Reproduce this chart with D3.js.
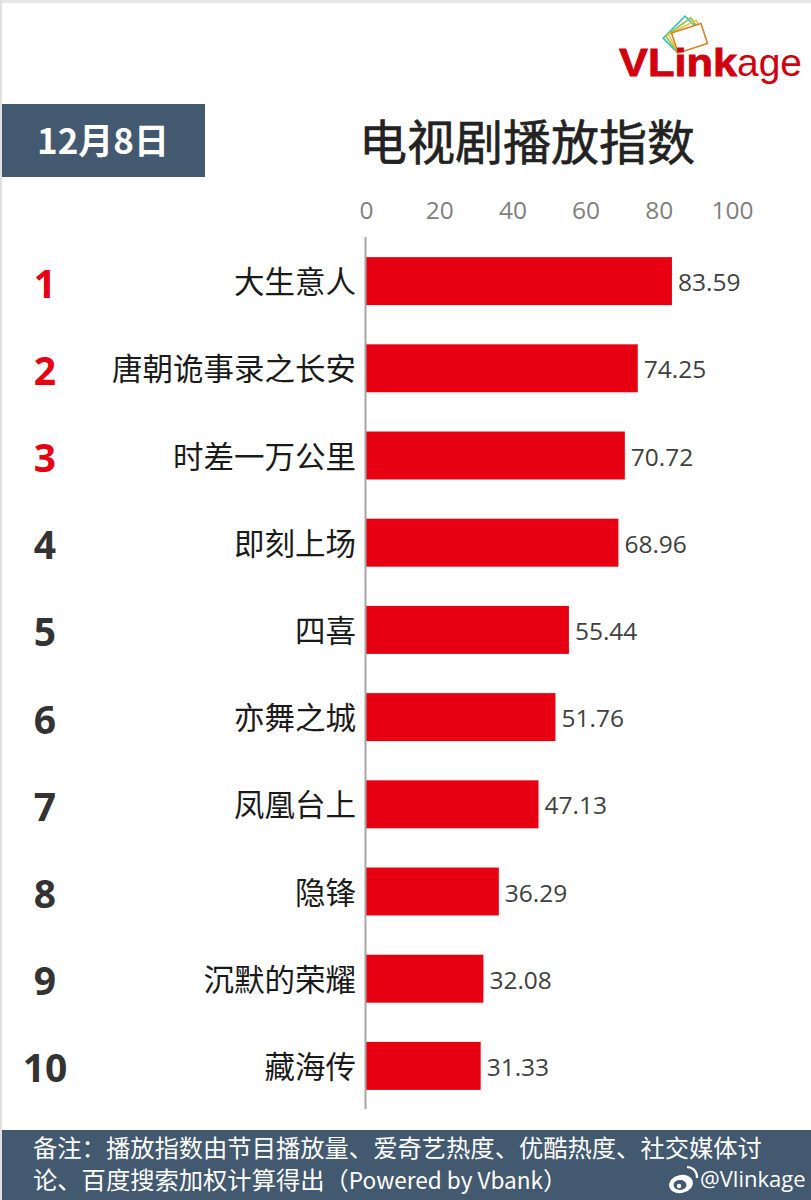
<!DOCTYPE html>
<html><head><meta charset="utf-8">
<script src="https://cdn.jsdelivr.net/npm/d3@7"></script>
<style>html,body{margin:0;padding:0;background:#fff}svg{display:block}
text{font-family:"Noto Sans CJK SC","Noto Sans",sans-serif}</style></head>
<body><svg id="c" width="811" height="1200"></svg>
<script>
const ranks = ["1","2","3","4","5","6","7","8","9","10"];
const titles = ["大生意人","唐朝诡事录之长安","时差一万公里","即刻上场","四喜","亦舞之城","凤凰台上","隐锋","沉默的荣耀","藏海传"];
const values = [83.59,74.25,70.72,68.96,55.44,51.76,47.13,36.29,32.08,31.33];
const tickValues = [0,20,40,60,80,100];
const dateLabel = "12月8日";
const chartTitle = "电视剧播放指数";
const noteLine1 = "备注\uFF1A播放指数由节目播放量、爱奇艺热度、优酷热度、社交媒体讨";
const noteLine2 = ["论、百度搜索加权计算得出\uFF08","Powered by Vbank","\uFF09"];
const cardColors = ["#3fb8c8","#8cc63f","#e8c23a","#d9822b"];
const cardAngles = [-45,-36,-27,-18];

const svg = d3.select("#c");
const slate = "#43596f", red = "#e60012";

svg.append("rect").attr("width",811).attr("height",3).attr("fill","#e6e6e6");
svg.append("rect").attr("width",2).attr("height",1200).attr("fill","#e0e0e0");

const x = d3.scaleLinear().domain([0,100]).range([366,732]);
const y = d3.scaleBand().domain(titles).range([237.5,1109.5]).paddingInner(0.45).paddingOuter(0.225);

// header
svg.append("rect").attr("x",2).attr("y",104).attr("width",203).attr("height",73).attr("fill",slate);
svg.append("text").attr("x",103).attr("y",154).attr("text-anchor","middle")
  .attr("font-size",35).attr("font-weight",700).attr("fill","#fff").text(dateLabel);
svg.append("text").attr("x",527).attr("y",160).attr("text-anchor","middle")
  .attr("font-size",48).attr("font-weight",400).attr("fill","#222").attr("stroke","#222").attr("stroke-width",0.6).text(chartTitle);

// logo
const lg = svg.append("g").attr("transform","translate(678,53)");
cardColors.forEach((c,i)=>{
  lg.append("rect").attr("x",0).attr("y",-21).attr("width",31).attr("height",21)
    .attr("fill",i===3?"#fff":"none").attr("stroke",c).attr("stroke-width",1.6)
    .attr("transform",`rotate(${cardAngles[i]})`);
});
svg.append("text").attr("x",619).attr("y",76).attr("fill","#d0000f")
  .style("font-family","'Liberation Sans',Arial,sans-serif")
  .attr("font-size",39).attr("font-weight",700).attr("stroke","#d0000f").attr("stroke-width",0.8)
  .attr("textLength",118).attr("lengthAdjust","spacingAndGlyphs").text("VLink");
svg.append("text").attr("x",737).attr("y",76).attr("fill","#d0000f")
  .style("font-family","'Liberation Sans',Arial,sans-serif")
  .attr("font-size",39).attr("textLength",65).attr("lengthAdjust","spacingAndGlyphs").text("age");

// axis
const axis = d3.axisTop(x).tickValues(tickValues).tickSize(0).tickPadding(0).tickFormat(d3.format("d"));
const ax = svg.append("g").attr("transform","translate(0,219)").call(axis);
ax.select(".domain").remove();
ax.selectAll("text").attr("font-size",24.5).attr("fill","#7f7f7f")
  .style("font-family","'Open Sans','Noto Sans',sans-serif");

// bars
svg.append("g").selectAll("rect").data(values).join("rect")
  .attr("x",x(0)).attr("y",(d,i)=>y(titles[i])).attr("width",d=>x(d)-x(0)).attr("height",y.bandwidth()).attr("fill",red);
svg.append("line").attr("x1",365.5).attr("x2",365.5).attr("y1",237).attr("y2",1109).attr("stroke","#a6a6a6").attr("stroke-width",2);

// value labels
svg.append("g").selectAll("text").data(values).join("text")
  .attr("x",d=>x(d)+6).attr("y",(d,i)=>y(titles[i])+y.bandwidth()/2+10)
  .attr("font-size",24.5).attr("fill","#404040")
  .style("font-family","'Open Sans','Noto Sans',sans-serif").text(d=>d3.format(".2f")(d));

// category labels
svg.append("g").selectAll("text").data(titles).join("text")
  .attr("x",356).attr("y",d=>y(d)+y.bandwidth()/2+12).attr("text-anchor","end")
  .attr("font-size",30.5).attr("fill","#1a1a1a").text(d=>d);

// ranks
svg.append("g").selectAll("text").data(ranks).join("text")
  .attr("x",45).attr("y",(d,i)=>y(titles[i])+y.bandwidth()/2+16.5).attr("text-anchor","middle")
  .attr("font-size",39).attr("font-weight",700).attr("fill",(d,i)=>i<3?red:"#333")
  .style("font-family","'Open Sans','Noto Sans',sans-serif").text(d=>d);

// footer
svg.append("rect").attr("x",2).attr("y",1130).attr("width",809).attr("height",70).attr("fill",slate);
svg.append("text").attr("x",33).attr("y",1157).attr("font-size",24.3).attr("fill","#fff").text(noteLine1);
const n2 = svg.append("text").attr("x",33).attr("y",1189).attr("font-size",24.3).attr("fill","#fff");
n2.append("tspan").text(noteLine2[0]);
n2.append("tspan").attr("font-size",22.6).text(noteLine2[1]);
n2.append("tspan").text(noteLine2[2]);
const wb = svg.append("g").attr("transform","translate(681,1184)");
wb.append("ellipse").attr("rx",12).attr("ry",9).attr("fill","#fff").attr("transform","rotate(-12)");
wb.append("ellipse").attr("cx",-1).attr("cy",1).attr("rx",6.5).attr("ry",5).attr("fill",slate);
wb.append("circle").attr("cx",-2).attr("cy",2).attr("r",2.2).attr("fill","#fff");
wb.append("path").attr("d","M6,-17 A10,10 0 0 1 16,-6").attr("fill","none").attr("stroke","#fff").attr("stroke-width",2.2);
svg.append("text").attr("x",700).attr("y",1187).attr("font-size",22).attr("fill","#fff")
  .style("font-family","'Open Sans','Noto Sans',sans-serif").text("@Vlinkage");
</script></body></html>
